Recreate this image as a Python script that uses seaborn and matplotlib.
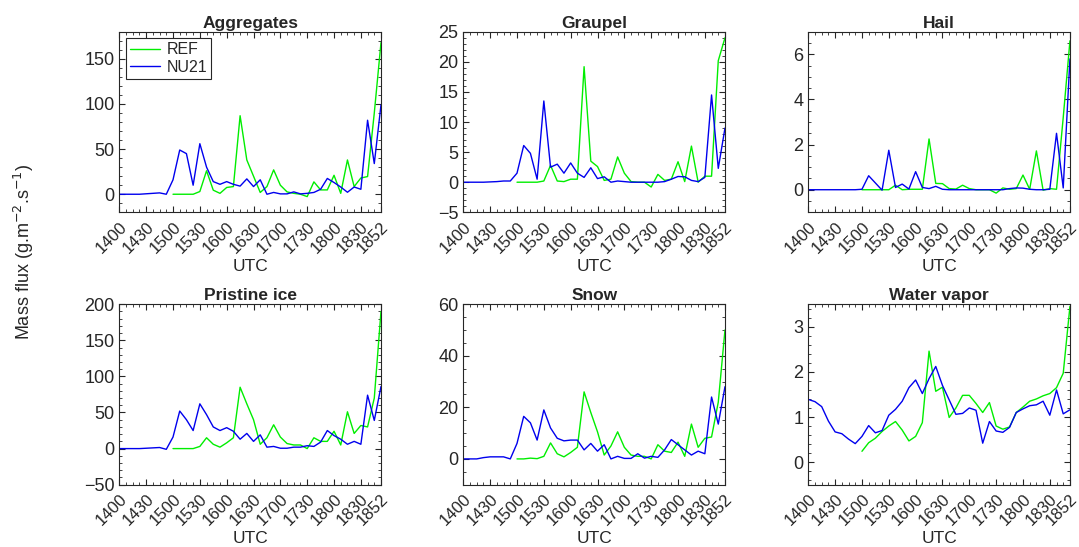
import pandas as pd
import matplotlib
matplotlib.use("Agg")
import matplotlib.pyplot as plt
from matplotlib.ticker import MultipleLocator, AutoMinorLocator
import seaborn as sns

# output step (sample index) and the UTC labels shown on the x axis
n_steps = 40
ref_start = 8
tick_steps = [0, 4, 8, 12, 16, 20, 24, 28, 32, 36, 39]
tick_labels = ['1400', '1430', '1500', '1530', '1600', '1630', '1700',
               '1730', '1800', '1830', '1852']

# Aggregates
agg_nu21 = [0, 0, 0, 0, 0.5, 1, 1.5, 0,
            16, 49, 45, 10, 56, 30, 14, 11, 14, 11, 9, 17,
            8.5, 16, 0, 2, 0.4, 0.4, 2.6, 0.4, 1, 2,
            5.5, 17.5, 13, 8, 2.2, 8, 5.5, 82, 34, 99]
agg_ref = [0, 0, 0, 0, 3, 26, 4.5, 1, 7.5, 8.5,
           87, 38, 20, 2, 8.5, 27, 10, 2.6, 1, 0,
           -2.6, 13.7, 4.8, 4.8, 21, 1, 38, 8.5, 18, 19.6, 90, 168]

# Graupel
grau_nu21 = [0, 0, 0, 0, 0.05, 0.1, 0.2, 0.2,
             1.5, 6.1, 4.8, 0.5, 13.5, 2.5, 3, 1.5, 3.2, 1.5, 0.8, 2.4,
             0.6, 0.9, 0, 0.2, 0.1, 0, 0, 0, 0, 0,
             0.1, 0.5, 0.95, 0.9, 0.3, 0.1, 0.8, 14.5, 2.3, 9]
grau_ref = [0, 0, 0, 0, 0.2, 2.8, 0.2, 0.1, 0.5, 0.5,
            19.2, 3.5, 2.6, 0.3, 0.5, 4.2, 1.5, 0.1, 0, 0,
            -0.8, 1.3, 0.3, 0.5, 3.4, 0.1, 6, 0, 1, 1, 20.2, 24]

# Hail
hail_nu21 = [0, 0, 0, 0, 0, 0, 0, 0,
             0.02, 0.62, 0.3, -0.02, 1.75, 0.1, 0.25, 0.03, 0.8, 0.1, 0.05, 0.15,
             0.02, 0, 0, 0, 0, 0, 0, 0, 0, 0,
             0.05, 0.08, 0.07, 0.02, 0, 0, 0.02, 2.5, 0.08, 5.8]
hail_ref = [0, 0, 0, 0, 0, 0.2, 0, 0.02, 0.02, 0.02,
            2.25, 0.28, 0.27, 0.05, 0.03, 0.2, 0.05, 0, 0, 0,
            -0.15, 0.08, 0.02, 0.05, 0.65, 0.02, 1.72, -0.02, 0.05, 0.02, 3.2, 6.6]

# Pristine ice
pris_nu21 = [0, 0, 0, 0, 0.5, 1, 1.5, -1,
             16, 52, 40, 25, 62, 47, 30, 25, 29, 24, 13, 21,
             10, 19, 2, 3, 0.5, 0.5, 2, 2, 4, 3,
             9, 25, 18, 13, 6, 10, 6, 74, 39, 86]
pris_ref = [0, 0, 0, 0, 3, 15, 6, 2, 8, 15,
            85, 62, 40, 6, 15, 33, 16, 7, 5, 5,
            0, 15, 10, 10, 24, 5, 51, 21, 32, 30, 70, 190]

# Snow
snow_nu21 = [0, 0, 0, 0.5, 0.8, 0.8, 0.8, 0,
             6, 16.5, 14, 7.3, 19, 12, 8, 7, 7.3, 7.3, 3.5, 6,
             3, 5.5, 0, 1, 0.2, 0.2, 2, 0.3, 1, 0.6,
             3.5, 7.5, 5.5, 3.5, 1.5, 3, 2, 24, 13.5, 28]
snow_ref = [0, 0, 0.3, 0.1, 1, 6.2, 2, 0.8, 2.5, 4.5,
            26, 18, 10.5, 1.5, 5, 10.5, 4.5, 1.5, 1, 1,
            0, 5.5, 3, 2.5, 6.5, 1, 13.5, 4.5, 8, 8.5, 22, 50]

# Water vapor
wv_nu21 = [1.39, 1.34, 1.23, 0.91, 0.67, 0.63, 0.51, 0.41,
           0.57, 0.81, 0.65, 0.7, 1.04, 1.17, 1.35, 1.65, 1.82, 1.52, 1.85, 2.12,
           1.7, 1.38, 1.06, 1.08, 1.2, 1.15, 0.42, 0.9, 0.69, 0.66,
           0.77, 1.1, 1.18, 1.25, 1.27, 1.35, 1.04, 1.6, 1.07, 1.16]
wv_ref = [0.24, 0.43, 0.53, 0.68, 0.8, 0.9, 0.71, 0.47, 0.57, 0.875,
          2.46, 1.57, 1.66, 0.99, 1.2, 1.48, 1.48, 1.3, 1.1, 1.32,
          0.8, 0.73, 0.78, 1.1, 1.22, 1.35, 1.4, 1.47, 1.52, 1.65, 1.97, 3.45]

panels = [
    ('Aggregates', agg_ref, agg_nu21, (-20, 180), [0, 50, 100, 150]),
    ('Graupel', grau_ref, grau_nu21, (-5, 25), [-5, 0, 5, 10, 15, 20, 25]),
    ('Hail', hail_ref, hail_nu21, (-1, 7), [0, 2, 4, 6]),
    ('Pristine ice', pris_ref, pris_nu21, (-50, 200), [-50, 0, 50, 100, 150, 200]),
    ('Snow', snow_ref, snow_nu21, (-10, 60), [0, 20, 40, 60]),
    ('Water vapor', wv_ref, wv_nu21, (-0.5, 3.5), [0, 1, 2, 3]),
]

sns.set_style('ticks')
plt.rcParams['font.family'] = ['Liberation Sans', 'DejaVu Sans']
plt.rcParams['xtick.direction'] = 'in'
plt.rcParams['ytick.direction'] = 'in'
plt.rcParams['xtick.top'] = True
plt.rcParams['ytick.right'] = True
plt.rcParams['xtick.color'] = '#262626'
plt.rcParams['ytick.color'] = '#262626'
plt.rcParams['axes.edgecolor'] = '#262626'

palette = {'REF': '#00ee00', 'NU21': '#0000ee'}

fig = plt.figure(figsize=(10.79, 5.47), dpi=100)
lefts = [0.1106, 0.4294, 0.7491]
bottoms = [0.6119, 0.1139]
w, h = 0.2425, 0.330

for k, (name, ref, nu21, ylim, yticks) in enumerate(panels):
    ax = fig.add_axes([lefts[k % 3], bottoms[k // 3], w, h])
    df = pd.concat([
        pd.DataFrame({'step': range(ref_start, n_steps), 'flux': ref, 'run': 'REF'}),
        pd.DataFrame({'step': range(n_steps), 'flux': nu21, 'run': 'NU21'}),
    ])
    sns.lineplot(data=df, x='step', y='flux', hue='run', hue_order=['REF', 'NU21'],
                 palette=palette, linewidth=1, ax=ax, legend=(k == 0))
    ax.set_xlim(0, n_steps - 1)
    ax.set_ylim(*ylim)
    ax.set_yticks(yticks)
    ax.set_xticks(tick_steps)
    ax.set_xticklabels(tick_labels, rotation=45, ha='right', rotation_mode='anchor',
                       fontsize=12)
    ax.xaxis.set_minor_locator(MultipleLocator(1))
    ax.yaxis.set_minor_locator(AutoMinorLocator())
    ax.tick_params(axis='y', labelsize=13)
    ax.tick_params(axis='x', pad=5)
    ax.tick_params(which='major', length=4, width=0.8)
    ax.tick_params(which='minor', length=2.5, width=0.6)
    for s in ax.spines.values():
        s.set_linewidth(0.8)
    ax.set_title(name, fontsize=12.5, fontweight='bold', pad=3)
    ax.set_xlabel('UTC', fontsize=12.5, color='#262626', labelpad=2)
    ax.set_ylabel('')
    if k == 0:
        leg = ax.legend(loc='upper left', fontsize=11.5, frameon=True, fancybox=False,
                        framealpha=1, edgecolor='#262626', borderpad=0.25,
                        handlelength=1.9, handletextpad=0.4, labelspacing=0.15,
                        borderaxespad=0.4)
        leg.get_frame().set_linewidth(0.8)

fig.text(0.022, 1 - 252 / 547, 'Mass flux (g.m$^{-2}$.s$^{-1}$)', rotation=90,
         va='center', ha='center', fontsize=13, color='#262626')

fig.savefig('out.png', dpi=100)
